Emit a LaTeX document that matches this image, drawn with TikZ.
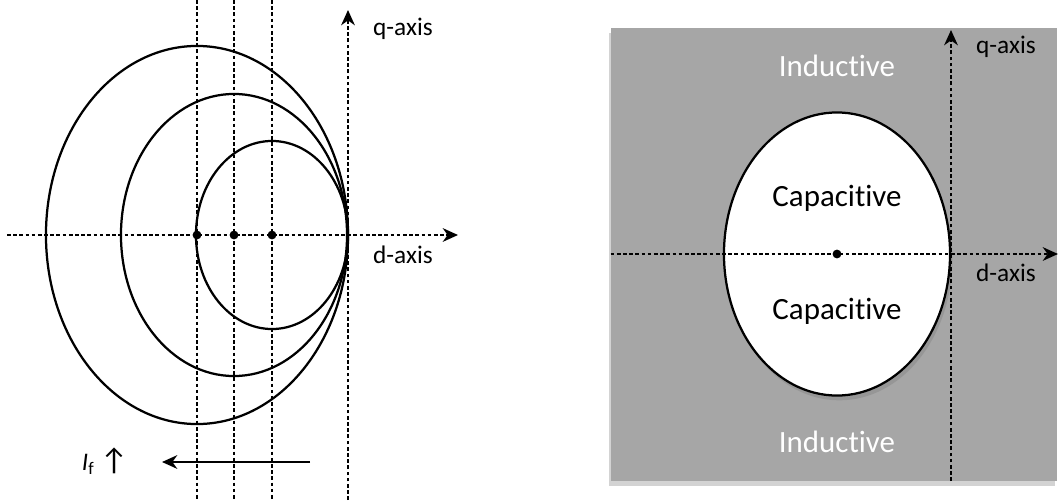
\documentclass[tikz,border=0pt]{standalone}
\usepackage{fontspec}
\setmainfont{Carlito}[Ligatures=NoCommon]
\usetikzlibrary{arrows.meta, positioning, shapes.geometric, shadows}
\definecolor{planegray}{RGB}{166,166,166}

\begin{document}
\begin{tikzpicture}[
    x=0.025cm, y=-0.025cm,
    dashed line/.style={line width=1.7pt, dash pattern=on 2.6pt off 1.8pt},
    axis/.style={dashed line, -{Stealth[length=3.8mm, width=3.4mm, inset=1.2mm]}},
    locus/.style={ellipse, draw, line width=1.6pt, inner sep=0pt},
    dot/.style={circle, fill, inner sep=0pt, minimum size=2.2mm},
    lbl/.style={font=\fontsize{18}{20}\selectfont},
    region/.style={font=\fontsize{22}{24}\selectfont}
]
    \useasboundingbox (0,0) rectangle (1059,500);
    \coordinate (top) at (0,0);
    \coordinate (bot) at (0,500);

    % Left: loci for increasing field current
    \coordinate (c1) at (197,235);
    \coordinate (c2) at (234,235);
    \coordinate (c3) at (272,235);
    \node[locus, minimum width=7.55cm, minimum height=9.45cm] (big) at (c1) {};
    \node[locus, minimum width=5.65cm, minimum height=7.05cm] (mid) at (c2) {};
    \node[locus, minimum width=3.8cm, minimum height=4.7cm] (small) at (c3) {};
    \foreach \c in {c1, c2, c3} {
        \draw[dashed line] (\c |- top) -- (\c |- bot);
        \node[dot] at (\c) {};
    }

    % Left axes
    \coordinate (dL) at (7,235);
    \coordinate (dR) at (458,235);
    \coordinate (qB) at (348,500);
    \coordinate (qT) at (348,10);
    \draw[axis] (dL) -- (dR);
    \draw[axis] (qB) -- (qT);
    \node[lbl] (qlab) at (403,29) {q-axis};
    \node[lbl] (dlab) at (403,255) {d-axis};

    % Field current direction
    \coordinate (fs) at (310,462);
    \coordinate (fe) at (162,462);
    \draw[line width=1.6pt, -{Stealth[length=3.8mm, width=3.4mm, inset=1.2mm]}] (fs) -- (fe);
    \node[lbl] (iflab) at (105,461) {\textit{I}\textsubscript{f} {\fontsize{22}{24}\selectfont ↑}};

    % Right: operating regions
    \node[rectangle, fill=planegray, minimum width=11.15cm, minimum height=11.325cm, inner sep=0pt,
          drop shadow={shadow xshift=-0.5mm, shadow yshift=-1.2mm, opacity=0.35}] (plane) at (834,254.5) {};
    \node[locus, fill=white, minimum width=5.65cm, minimum height=7.075cm,
          drop shadow={shadow xshift=0.6mm, shadow yshift=-1.2mm, opacity=0.4}] (cap) at (837,254) {};
    \node[dot] at (cap.center) {};
    \coordinate (rdR) at (1058,254);
    \coordinate (rqB) at (951,481);
    \coordinate (rqT) at (951,30);
    \draw[axis] (plane.west |- cap.center) -- (rdR);
    \draw[axis] (rqB) -- (rqT);
    \node[lbl] (rqlab) at (1006,47) {q-axis};
    \node[lbl] (rdlab) at (1006,273) {d-axis};
    \node[region, text=white] (indup) at (837,66) {Inductive};
    \node[region, text=white] (inddn) at (837,442) {Inductive};
    \node[region] (capup) at (837,198) {Capacitive};
    \node[region] (capdn) at (837,311) {Capacitive};
\end{tikzpicture}
\end{document}
